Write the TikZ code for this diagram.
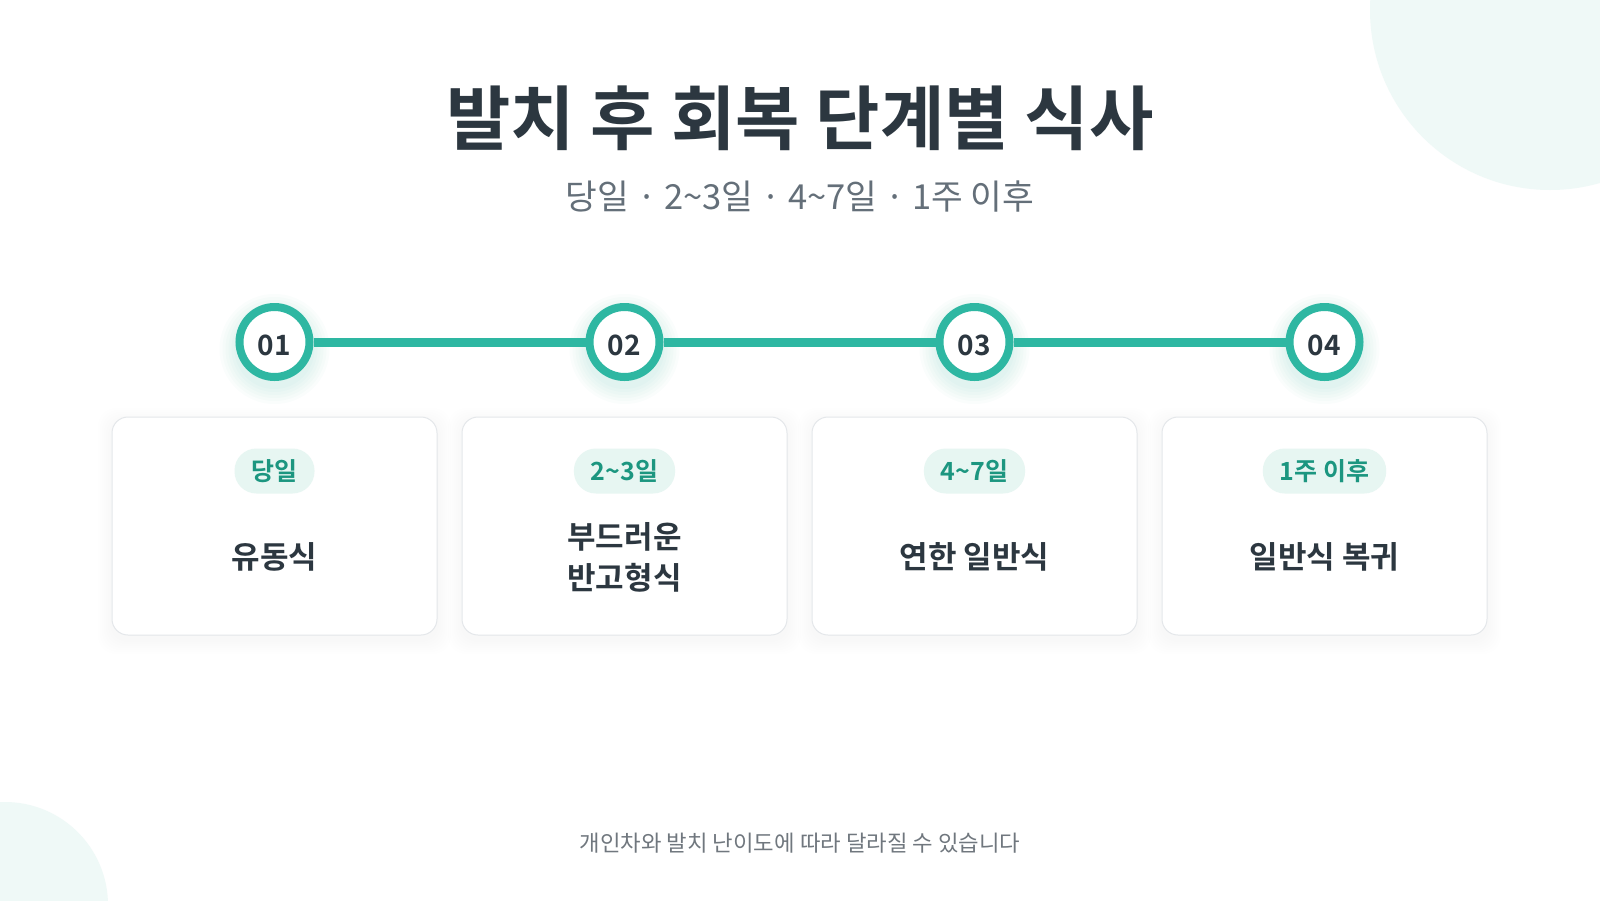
\documentclass[tikz,border=0pt]{standalone}
\usepackage{fontspec}
\setmainfont{Noto Sans CJK KR}[BoldFont={Noto Sans CJK KR Bold}]
\definecolor{ringteal}{RGB}{46,183,162}
\definecolor{inkdark}{RGB}{44,55,64}
\definecolor{subgray}{RGB}{100,111,121}
\definecolor{notegray}{RGB}{112,119,126}
\definecolor{pillfill}{RGB}{231,246,242}
\definecolor{pilltext}{RGB}{28,150,128}
\definecolor{decomint}{RGB}{239,249,247}
\definecolor{cardline}{RGB}{228,231,234}
\newcommand{\tl}{{\char"7E}}
\tikzset{
  stepnum/.style={circle,draw=ringteal,line width=8pt,fill=white,minimum size=70pt,inner sep=0pt,
    text height=26pt,text depth=0pt,text=inkdark,font=\bfseries\fontsize{28}{28}\selectfont},
  cardbox/.style={rectangle,draw=cardline,line width=1pt,fill=white,rounded corners=16pt,
    minimum width=325pt,minimum height=218pt},
  daypill/.style={rectangle,fill=pillfill,rounded corners=22pt,minimum height=45pt,
    inner xsep=17pt,inner ysep=0pt,text=pilltext,font=\bfseries\fontsize{25}{25}\selectfont},
  dishtext/.style={align=center,text=inkdark,inner sep=0pt,font=\bfseries\fontsize{31}{41}\selectfont},
  linkline/.style={ringteal,line width=9pt}
}
\begin{document}
\begin{tikzpicture}[x=1pt,y=-1pt]
\clip(0,0) rectangle (1600,900);
\fill[white](0,0) rectangle (1600,900);
% corner decorations
\fill[decomint](1550,10) circle (180pt);
\fill[decomint](5,905) circle (103pt);
% title
\node[inner sep=0pt,text=inkdark,font=\bfseries\fontsize{70}{74}\selectfont] (title) at (800,118) {발치 후 회복 단계별 식사};
\node[inner sep=0pt,text=subgray,font=\fontsize{34.5}{38}\selectfont] (subtitle) at (800,197) {당일 · 2\tl3일 · 4\tl7일 · 1주 이후};
% soft shadows
\foreach \x in {274.5,624.5,974.5,1324.5}{
  \foreach \k in {2,4,...,14}
    \fill[black,opacity=0.005,rounded corners=18pt](\x-162.5-\k,417-\k+5) rectangle (\x+162.5+\k,635+\k+5);
  \foreach \r in {40,43,...,55}
    \fill[ringteal,opacity=0.025](\x,349) circle (\r pt);
}
% cards
\node[cardbox] (card1) at (274.5,526) {};
\node[cardbox] (card2) at (624.5,526) {};
\node[cardbox] (card3) at (974.5,526) {};
\node[cardbox] (card4) at (1324.5,526) {};
\node[daypill] (day1) at (274.5,471) {당일};
\node[daypill] (day2) at (624.5,471) {2\tl3일};
\node[daypill] (day3) at (974.5,471) {4\tl7일};
\node[daypill] (day4) at (1324.5,471) {1주 이후};
\node[dishtext] (dish1) at (274.5,557) {유동식};
\node[dishtext] (dish2) at (624.5,557) {부드러운\\반고형식};
\node[dishtext] (dish3) at (974.5,557) {연한 일반식};
\node[dishtext] (dish4) at (1324.5,557) {일반식 복귀};
% timeline
\node[stepnum] (step1) at (274.5,342) {01};
\node[stepnum] (step2) at (624.5,342) {02};
\node[stepnum] (step3) at (974.5,342) {03};
\node[stepnum] (step4) at (1324.5,342) {04};
\draw[linkline](step1)--(step2);
\draw[linkline](step2)--(step3);
\draw[linkline](step3)--(step4);
% footnote
\node[inner sep=0pt,text=notegray,font=\fontsize{22.3}{24}\selectfont] (note) at (800,843) {개인차와 발치 난이도에 따라 달라질 수 있습니다};
\end{tikzpicture}
\end{document}
